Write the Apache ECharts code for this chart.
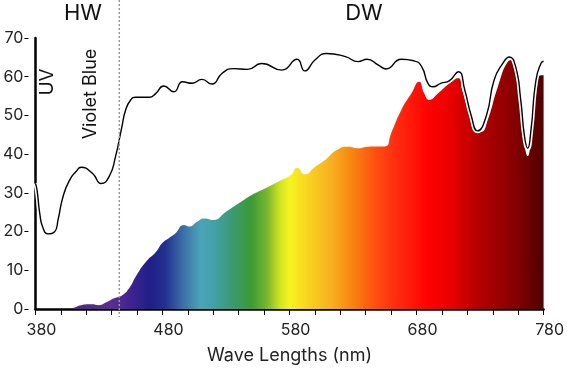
<!DOCTYPE html>
<html><head><meta charset="utf-8">
<script src="https://cdn.jsdelivr.net/npm/echarts@6/dist/echarts.min.js"></script>
<style>html,body{margin:0;padding:0;background:#fff}#c{width:567px;height:371px}</style>
</head><body><div id="c"></div>
<script>
// Black outline curve (nm, value)
const lineNm  = [380,381.3,383.4,386,390,395.2,397.8,401.7,406.9,412,416,425,431.7,438,443,448,451,455,459,469.6,474.8,481,489,495.7,503.5,511,519,527,536,547,558,574,586,592,600,609,624,634,641,650,656,668,678,684,689,693,699,706,713,718,723,728,735,741,748,753,758,762,765,767.5,770,774,778,780];
const lineVal = [32.5,30.7,24.7,20.9,19.4,20,23,29,33.3,35.5,36.6,35,32.4,34.2,39.3,47,51.4,54,54.7,54.7,55.7,57.6,56.1,58.7,58.3,59.3,58.1,60.9,62.1,61.9,63.4,61.7,64.5,61.5,64.3,66,65.2,63.9,64.5,63,62,64.5,64.1,62.6,58.3,57.4,58.3,59,61.3,56.5,50,46,50,59.1,63.5,65.1,62.6,54,44.5,41.5,46,59.1,63.5,64];
// Spectral power fill (nm, value)
const spdNm  = [380,405,410,416,424,430,436,442,448,454,459,467,475,480,485,490,497,501,507,513,520,530,540,550,561,571,581,586,592,600,608,617,626,634,642,655,660,668,676,682,686,690,697,706,713,716,721,727,731,736,744,752,755,759,762,765,767.5,770,774,778,780];
const spdVal = [0,0,0.3,1.0,1.2,1.0,1.8,2.8,3.5,5.5,8.4,12.2,14.8,17.1,18.3,19.5,21.7,21.3,22.5,23.4,23,25.1,27.3,29.4,31.2,32.9,34.6,36.5,34.8,36.7,38.5,41,41.9,41.5,41.9,42,45.4,51.4,55.7,58.7,55.7,54,55.7,58.3,59.6,56.5,51.4,46.7,45.8,48.8,57.4,63.9,64.3,60,53,42.5,39.5,44.5,58.3,60.4,60.4];
// Spectrum colours by wavelength
const colorNm  = [380,410,440,455,470,482,495,510,522,535,550,562,572,580,595,613,631,647,662,690,707,731,755,780];
const colorHex = ['#3d2060','#4a2a7a','#5a2d92','#40238f','#1f1f88','#22308f','#3a6aa6','#4aa4b8','#42a0a4','#3a9a70','#3b9b35','#78b430','#cde222','#f6f420','#f8d21f','#f8b020','#f8800f','#ff5010','#ff3010','#ff0000','#e80000','#b00000','#8a0000','#500000'];
const xLabels = [380,480,580,680,780];
const boundaryNm = 446;
const xName = 'Wave Lengths (nm)';
const regionLabels = ['HW','DW'];
const bandLabels = ['UV','Violet Blue'];

const X0 = 380, X1 = 780;
const FONT = 'Inter';
const chart = echarts.init(document.getElementById('c'), null, {renderer:'canvas'});
const grad = new echarts.graphic.LinearGradient(0,0,1,0,
  colorNm.map((n,i)=>({offset:(n-X0)/(X1-X0), color:colorHex[i]})));

const lineData = lineNm.map((n,i)=>[n,lineVal[i]]);
const spdData = spdNm.map((n,i)=>[n,spdVal[i]]);
const SM = 0.55;

chart.setOption({
  animation:false,
  backgroundColor:'#fff',
  grid:{left:32,right:23,top:38,bottom:62},
  xAxis:[
    {type:'value',min:X0,max:X1,interval:20,position:'bottom',
     axisLine:{show:true,lineStyle:{color:'#000',width:2.5}},
     axisTick:{show:false},axisLabel:{show:false},splitLine:{show:false}},
    {type:'value',min:X0,max:X1,interval:20,position:'bottom',offset:8,
     axisLine:{show:true,lineStyle:{color:'#000',width:1}},
     axisTick:{show:true,length:6,lineStyle:{color:'#000'}},
     axisLabel:{formatter:v=>xLabels.includes(v)?String(v):'',fontSize:16,color:'#222',margin:5,fontFamily:FONT,padding:[0,0,0,12]},
     splitLine:{show:false},
     name:xName,nameLocation:'middle',nameGap:30,
     nameTextStyle:{fontSize:18,color:'#222',fontFamily:FONT}}
  ],
  yAxis:[
    {type:'value',min:0,max:70,interval:10,position:'left',
     axisLine:{show:true,lineStyle:{color:'#000',width:2.5}},
     axisTick:{show:false},axisLabel:{show:false},splitLine:{show:false}},
    {type:'value',min:0,max:70,interval:10,position:'left',offset:7,
     axisLine:{show:false},
     axisTick:{show:true,length:4,lineStyle:{color:'#000'}},
     axisLabel:{fontSize:16,color:'#222',margin:5,fontFamily:FONT},
     splitLine:{show:false}}
  ],
  series:[
    {type:'line',data:spdData,smooth:SM,symbol:'none',
     lineStyle:{width:0},areaStyle:{color:grad,opacity:1},z:2},
    {type:'line',data:lineData,smooth:SM,symbol:'none',
     lineStyle:{width:4.5,color:'#fff'},z:3},
    {type:'line',data:lineData,smooth:SM,symbol:'none',
     lineStyle:{width:1.4,color:'#000'},z:4}
  ]
});

const bx = chart.convertToPixel({xAxisIndex:0}, boundaryNm);
const axisY = chart.convertToPixel({yAxisIndex:0}, 0) + 8;
chart.setOption({
  graphic:[
    {type:'line',shape:{x1:bx,y1:0,x2:bx,y2:axisY},
     style:{stroke:'#999',lineWidth:1.5,lineDash:[2,2]},z:10},
    {type:'text',x:83,y:13,style:{text:regionLabels[0],font:'22px '+FONT,fill:'#111',align:'center',verticalAlign:'middle'},z:10},
    {type:'text',x:364,y:13,style:{text:regionLabels[1],font:'22px '+FONT,fill:'#111',align:'center',verticalAlign:'middle'},z:10},
    {type:'text',x:47,y:82,rotation:Math.PI/2,style:{text:bandLabels[0],font:'19px '+FONT,fill:'#111',align:'center',verticalAlign:'middle'},z:10},
    {type:'text',x:91,y:94,rotation:Math.PI/2,style:{text:bandLabels[1],font:'18px '+FONT,fill:'#111',align:'center',verticalAlign:'middle'},z:10}
  ]
});
</script>
</body></html>
